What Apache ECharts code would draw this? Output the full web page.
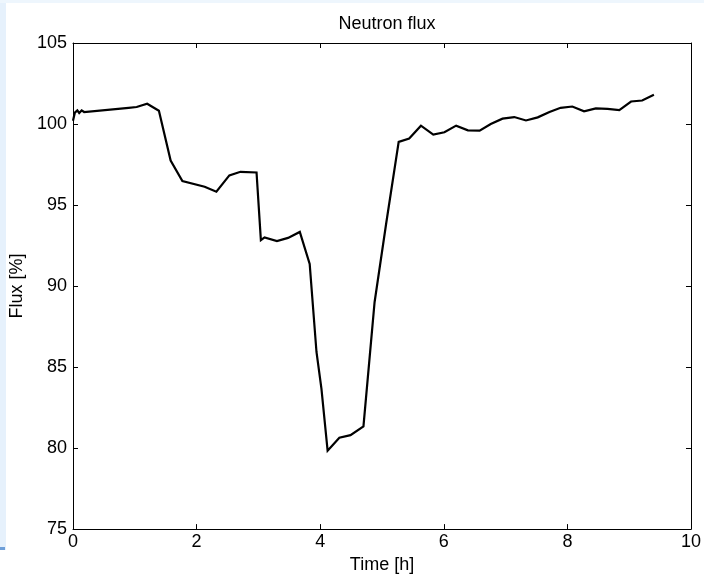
<!DOCTYPE html>
<html>
<head>
<meta charset="utf-8">
<script src="https://cdn.jsdelivr.net/npm/echarts@6/dist/echarts.min.js"></script>
<style>
  html, body { margin: 0; padding: 0; background: #ffffff; }
  #chart { width: 704px; height: 579px; }
</style>
</head>
<body>
<div id="chart"></div>
<script>
// Neutron flux record over time
const timeHours = [0, 0.03, 0.07, 0.10, 0.14, 0.18, 0.9, 1.03, 1.20, 1.39, 1.58, 1.77, 2.13, 2.32, 2.53, 2.71, 2.97,
  3.04, 3.10, 3.30, 3.48, 3.67, 3.83, 3.94, 4.02, 4.12, 4.31, 4.49, 4.70, 4.88, 5.07, 5.27, 5.44, 5.63, 5.83,
  6.01, 6.20, 6.39, 6.58, 6.76, 6.95, 7.14, 7.33, 7.52, 7.71, 7.89, 8.08, 8.27, 8.46, 8.65, 8.84, 9.03, 9.21, 9.40];
const fluxPercent = [100.2, 100.7, 100.84, 100.68, 100.84, 100.74, 101.0, 101.05, 101.25, 100.82, 97.75, 96.48, 96.13, 95.82, 96.83, 97.05, 97.01,
  92.83, 93.0, 92.77, 92.97, 93.34, 91.36, 85.93, 83.67, 79.84, 80.64, 80.8, 81.34, 89.0, 93.92, 98.9, 99.1, 99.9, 99.35,
  99.49, 99.9, 99.61, 99.59, 100.0, 100.33, 100.43, 100.22, 100.41, 100.74, 101.0, 101.08, 100.78, 100.96, 100.94, 100.86, 101.39, 101.45, 101.8];

const xTicks = [0, 2, 4, 6, 8, 10];
const yTicks = [75, 80, 85, 90, 95, 100, 105];

const FONT = 'Liberation Sans, Arial, sans-serif';
const chart = echarts.init(document.getElementById('chart'), null, { renderer: 'canvas' });

// each axis gets its own style objects; the frame never snaps to zero
const frameLine = () => ({ show: true, onZero: false, lineStyle: { color: '#000', width: 1 } });
const innerTick = () => ({ show: true, inside: true, length: 5, lineStyle: { color: '#000', width: 1 } });

chart.setOption({
  backgroundColor: '#ffffff',
  animation: false,
  title: {
    text: 'Neutron flux',
    left: 382, top: 10, textAlign: 'center',
    textStyle: { fontFamily: FONT, fontSize: 18, fontWeight: 'normal', color: '#000' }
  },
  graphic: [
    { type: 'rect', left: 0, top: 0, shape: { width: 6, height: 550 }, style: { fill: '#e6f1fc' }, silent: true },
    { type: 'rect', left: 0, top: 0, shape: { width: 704, height: 3 }, style: { fill: '#eef6fd' }, silent: true },
    { type: 'rect', left: 0, top: 547, shape: { width: 5, height: 3 }, style: { fill: '#6f9fd8' }, silent: true }
  ],
  grid: { left: 73, right: 12, top: 43, bottom: 48, containLabel: false },
  xAxis: [
    {
      type: 'value', min: xTicks[0], max: xTicks[xTicks.length - 1], interval: 2,
      position: 'bottom',
      name: 'Time [h]', nameLocation: 'middle', nameGap: 25,
      nameTextStyle: { fontFamily: FONT, fontSize: 18, color: '#000' },
      axisLine: frameLine(), axisTick: innerTick(),
      axisLabel: { fontFamily: FONT, fontSize: 18, color: '#000', margin: 4 },
      splitLine: { show: false }
    },
    {
      type: 'value', min: xTicks[0], max: xTicks[xTicks.length - 1], interval: 2,
      position: 'top',
      axisLine: frameLine(), axisTick: innerTick(),
      axisLabel: { show: false }, splitLine: { show: false }
    }
  ],
  yAxis: [
    {
      type: 'value', min: yTicks[0], max: yTicks[yTicks.length - 1], interval: 5,
      position: 'left',
      name: 'Flux [%]', nameLocation: 'middle', nameGap: 45, nameRotate: 90,
      nameTextStyle: { fontFamily: FONT, fontSize: 18, color: '#000' },
      axisLine: frameLine(), axisTick: innerTick(),
      axisLabel: { fontFamily: FONT, fontSize: 18, color: '#000', margin: 6 },
      splitLine: { show: false }
    },
    {
      type: 'value', min: yTicks[0], max: yTicks[yTicks.length - 1], interval: 5,
      position: 'right',
      axisLine: frameLine(), axisTick: innerTick(),
      axisLabel: { show: false }, splitLine: { show: false }
    }
  ],
  series: [{
    type: 'line',
    xAxisIndex: 0, yAxisIndex: 0,
    data: timeHours.map((t, i) => [t, fluxPercent[i]]),
    showSymbol: false,
    lineStyle: { color: '#000', width: 2.2, join: 'miter' },
    z: 3
  }]
});
</script>
</body>
</html>
